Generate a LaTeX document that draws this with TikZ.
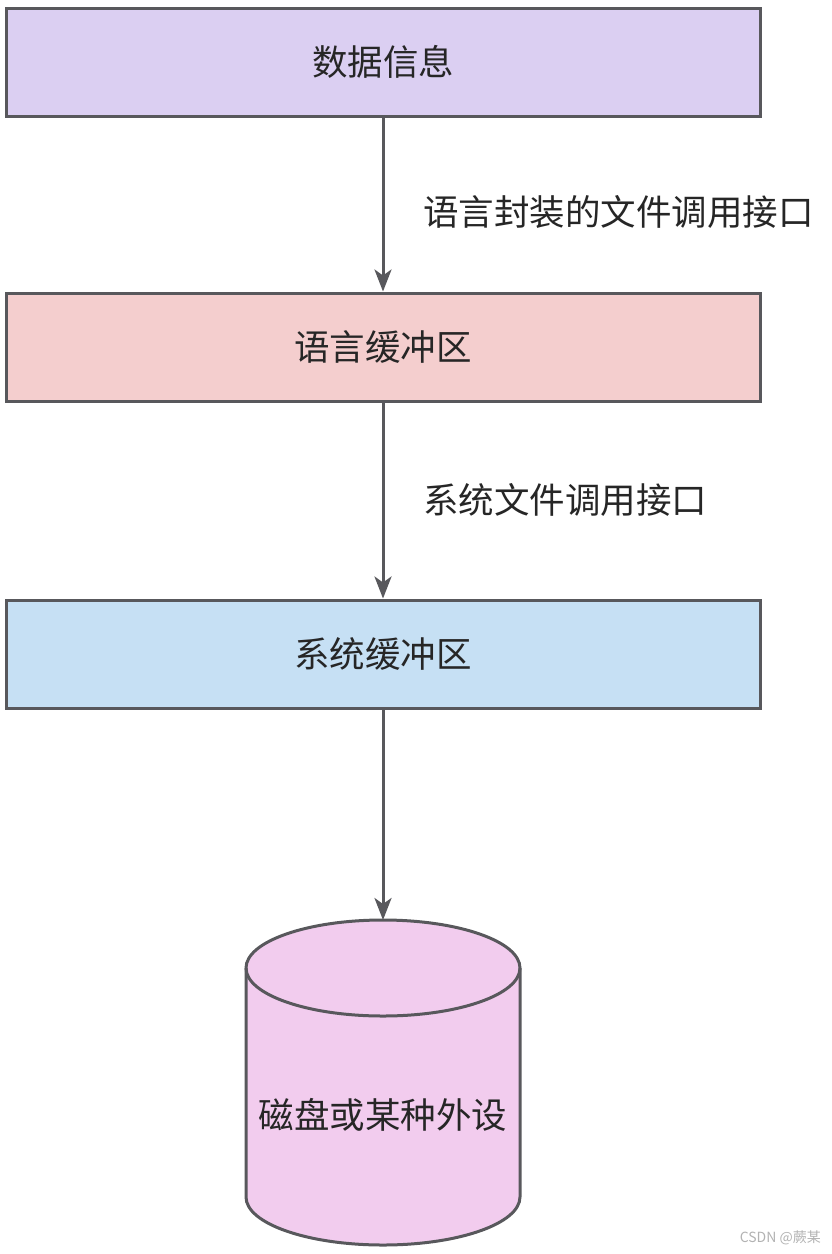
\documentclass[tikz,border=0pt]{standalone}
\usepackage{fontspec}
\newfontfamily\cjk{Noto Sans CJK SC}
\usetikzlibrary{arrows.meta,shapes.geometric}
\definecolor{edge}{RGB}{88,88,92}
\definecolor{fillA}{RGB}{219,207,242}
\definecolor{fillB}{RGB}{244,206,206}
\definecolor{fillC}{RGB}{198,224,244}
\definecolor{fillD}{RGB}{242,204,238}
\begin{document}
\begin{tikzpicture}[x=1pt,y=-1pt,
  box/.style={draw=edge,line width=3pt,minimum width=754pt,minimum height=108pt,inner sep=0pt,font=\cjk\fontsize{35.5}{42}\selectfont,text=black!85},
  lab/.style={anchor=west,inner sep=0pt,font=\cjk\fontsize{35.5}{42}\selectfont,text=black!85},
  conn/.style={draw=edge,line width=3pt,-{Stealth[length=22pt,width=17pt,inset=6pt]}}]
\useasboundingbox (0,0) rectangle (831,1254);
\node[box,fill=fillA] (a) at (383,62) {数据信息};
\node[box,fill=fillB] (b) at (383,347) {语言缓冲区};
\node[box,fill=fillC] (c) at (383,654) {系统缓冲区};
% cylinder
\coordinate (dtop) at (383,920);
\filldraw[fill=fillD,draw=edge,line width=3pt]
  (246,968) -- (246,1197) arc[start angle=180,end angle=0,x radius=137,y radius=48] -- (520,968)
  arc[start angle=0,end angle=-180,x radius=137,y radius=48] -- cycle;
\draw[edge,line width=3pt] (246,968) arc[start angle=180,end angle=0,x radius=137,y radius=48];
\node[inner sep=0pt,font=\cjk\fontsize{35.5}{42}\selectfont,text=black!85] (d) at (383,1115) {磁盘或某种外设};
\draw[conn] (a) -- (b);
\draw[conn] (b) -- (c);
\draw[conn] (c.south) -- (dtop);
\node[lab] (l1) at (423,212) {语言封装的文件调用接口};
\node[lab] (l2) at (423,500) {系统文件调用接口};
\node[anchor=east,inner sep=0pt,font=\cjk\fontsize{14}{16}\selectfont,text=black!30] (wm) at (821,1238) {CSDN @蕨某};
\end{tikzpicture}
\end{document}
